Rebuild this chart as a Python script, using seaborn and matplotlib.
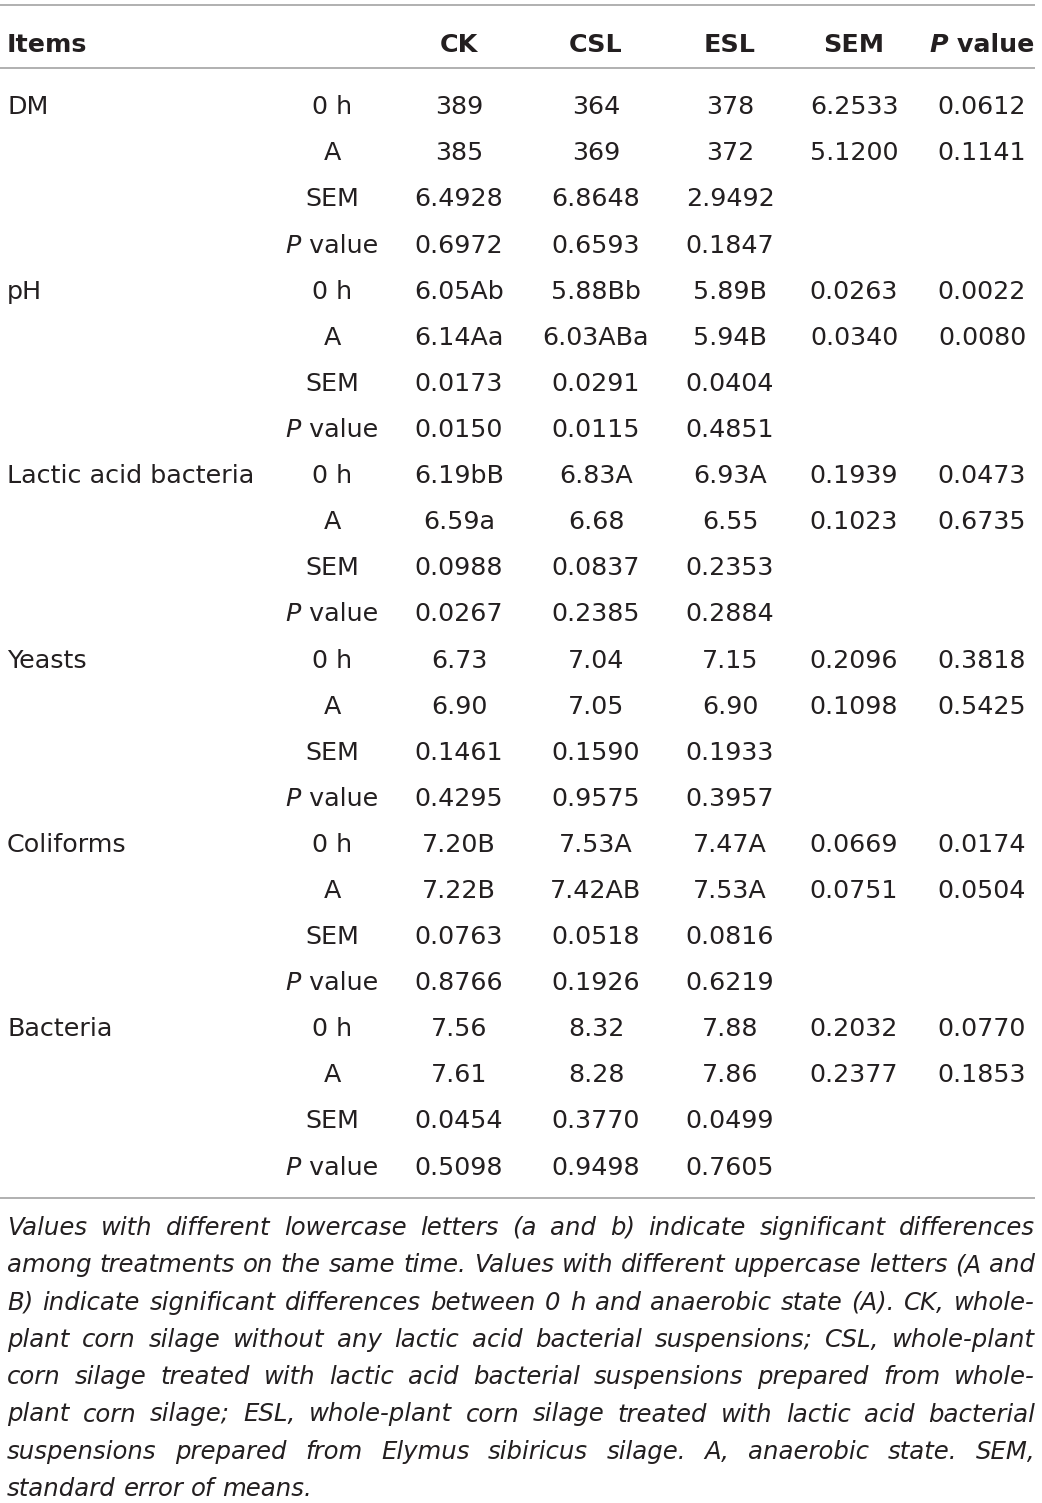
import matplotlib
matplotlib.use("Agg")
import matplotlib.pyplot as plt
import pandas as pd
import seaborn as sns

# table content
items = ["DM", "pH", "Lactic acid bacteria", "Yeasts", "Coliforms", "Bacteria"]
stat_rows = ["0 h", "A", "SEM", "P value"]
columns = ["CK", "CSL", "ESL", "SEM", "P value"]

ck = ["389", "385", "6.4928", "0.6972",
      "6.05Ab", "6.14Aa", "0.0173", "0.0150",
      "6.19bB", "6.59a", "0.0988", "0.0267",
      "6.73", "6.90", "0.1461", "0.4295",
      "7.20B", "7.22B", "0.0763", "0.8766",
      "7.56", "7.61", "0.0454", "0.5098"]
csl = ["364", "369", "6.8648", "0.6593",
       "5.88Bb", "6.03ABa", "0.0291", "0.0115",
       "6.83A", "6.68", "0.0837", "0.2385",
       "7.04", "7.05", "0.1590", "0.9575",
       "7.53A", "7.42AB", "0.0518", "0.1926",
       "8.32", "8.28", "0.3770", "0.9498"]
esl = ["378", "372", "2.9492", "0.1847",
       "5.89B", "5.94B", "0.0404", "0.4851",
       "6.93A", "6.55", "0.2353", "0.2884",
       "7.15", "6.90", "0.1933", "0.3957",
       "7.47A", "7.53A", "0.0816", "0.6219",
       "7.88", "7.86", "0.0499", "0.7605"]
# SEM and P value across treatments only exist for the 0 h and A rows
sem_trt = ["6.2533", "5.1200", "0.0263", "0.0340", "0.1939", "0.1023",
           "0.2096", "0.1098", "0.0669", "0.0751", "0.2032", "0.2377"]
p_trt = ["0.0612", "0.1141", "0.0022", "0.0080", "0.0473", "0.6735",
         "0.3818", "0.5425", "0.0174", "0.0504", "0.0770", "0.1853"]

footnote = [
    "Values with different lowercase letters (a and b) indicate significant differences",
    "among treatments on the same time. Values with different uppercase letters (A and",
    "B) indicate significant differences between 0 h and anaerobic state (A). CK, whole-",
    "plant corn silage without any lactic acid bacterial suspensions; CSL, whole-plant",
    "corn silage treated with lactic acid bacterial suspensions prepared from whole-",
    "plant corn silage; ESL, whole-plant corn silage treated with lactic acid bacterial",
    "suspensions prepared from Elymus sibiricus silage. A, anaerobic state. SEM,",
    "standard error of means.",
]

# build a long table from the lists
rows = []
for i, item in enumerate(items):
    for j, st in enumerate(stat_rows):
        idx = i * 4 + j
        rows.append({
            "Items": item if j == 0 else "",
            "stat": st,
            "CK": ck[idx], "CSL": csl[idx], "ESL": esl[idx],
            "SEM": sem_trt[i * 2 + j] if j < 2 else "",
            "P value": p_trt[i * 2 + j] if j < 2 else "",
        })
df = pd.DataFrame(rows)

sns.set_theme(style="white")
plt.rcParams['font.family'] = ['DejaVu Sans']

TXT = "#231f20"
RULE = "#9b9b9b"
W, H = 1042, 1503
fig = plt.figure(figsize=(W / 100, H / 100), dpi=100)
ax = fig.add_axes([0, 0, 1, 1])
ax.set_xlim(0, W)
ax.set_ylim(H, 0)
ax.axis("off")
renderer = fig.canvas.get_renderer()

col_x = {"stat": 332, "CK": 459, "CSL": 596, "ESL": 730, "SEM": 854, "P value": 982}
left_x = 7
fs = 18.3
header_base = 52
row_base0 = 114.3
row_step = 46.1


def text_width(s, size, weight="normal", style="normal"):
    t = ax.text(0, 0, s, fontsize=size, fontweight=weight, fontstyle=style)
    bb = t.get_window_extent(renderer=renderer)
    t.remove()
    return bb.width


def p_value(xc, y, size, weight="normal"):
    # italic P followed by upright " value", centred on xc
    w1 = text_width("P", size, weight, "italic")
    w2 = text_width(" value", size, weight)
    x0 = xc - (w1 + w2) / 2
    ax.text(x0, y, "P", fontsize=size, fontweight=weight, fontstyle="italic",
            color=TXT, va="baseline", ha="left")
    ax.text(x0 + w1, y, " value", fontsize=size, fontweight=weight,
            color=TXT, va="baseline", ha="left")


# rules
for yy in (5, 68, 1198):
    ax.plot([0, 1035], [yy, yy], color=RULE, lw=1.1, solid_capstyle="butt")

# header
ax.text(left_x, header_base, "Items", fontsize=fs, fontweight="bold",
        color=TXT, va="baseline", ha="left")
for c in columns:
    if c == "P value":
        p_value(col_x[c], header_base, fs, "bold")
    else:
        ax.text(col_x[c], header_base, c, fontsize=fs, fontweight="bold",
                color=TXT, va="baseline", ha="center")

# body
for r, row in df.iterrows():
    y = row_base0 + r * row_step
    if row["Items"]:
        ax.text(left_x, y, row["Items"], fontsize=fs, color=TXT,
                va="baseline", ha="left")
    if row["stat"] == "P value":
        p_value(col_x["stat"], y, fs)
    else:
        ax.text(col_x["stat"], y, row["stat"], fontsize=fs, color=TXT,
                va="baseline", ha="center")
    for c in ["CK", "CSL", "ESL", "SEM", "P value"]:
        if row[c]:
            ax.text(col_x[c], y, row[c], fontsize=fs, color=TXT,
                    va="baseline", ha="center")

# footnote, justified italic text
fx0, fx1 = 7, 1035
fn_fs = 17.6
space_w = text_width("a b", fn_fs, style="italic") - text_width("ab", fn_fs, style="italic")
while True:
    ok = True
    for line in footnote[:-1]:
        words = line.split()
        nat = sum(text_width(w, fn_fs, style="italic") for w in words) + 0.6 * space_w * (len(words) - 1)
        if nat > fx1 - fx0:
            ok = False
            break
    if ok:
        break
    fn_fs -= 0.25
    space_w = text_width("a b", fn_fs, style="italic") - text_width("ab", fn_fs, style="italic")

fn_base0 = 1235
fn_step = 37.3
for li, line in enumerate(footnote):
    y = fn_base0 + li * fn_step
    words = line.split()
    widths = [text_width(w, fn_fs, style="italic") for w in words]
    if li == len(footnote) - 1:
        gap = space_w
    else:
        gap = (fx1 - fx0 - sum(widths)) / (len(words) - 1)
    x = fx0
    for w, wd in zip(words, widths):
        ax.text(x, y, w, fontsize=fn_fs, fontstyle="italic", color=TXT,
                va="baseline", ha="left")
        x += wd + gap

fig.savefig("out.png", dpi=100)
